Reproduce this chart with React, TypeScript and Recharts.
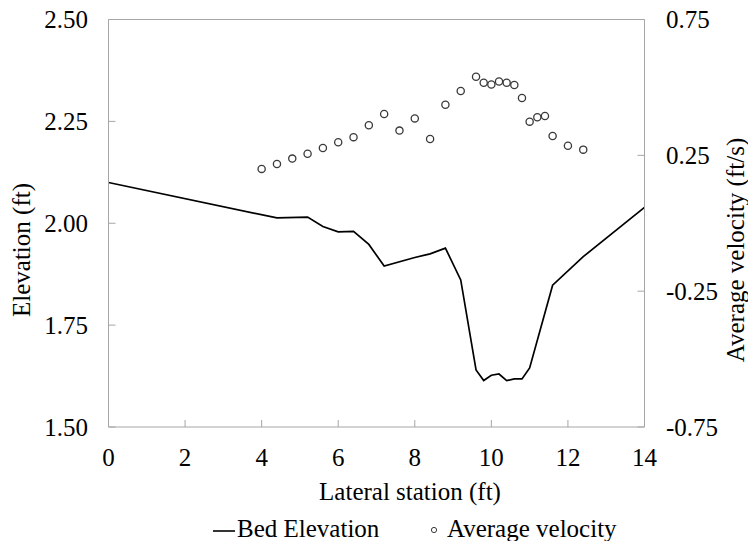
import React from 'react';
import { ComposedChart, Line, Scatter, XAxis, YAxis, Legend, ReferenceLine } from 'recharts';

// Bed profile: lateral station (ft) vs. bed elevation (ft)
const bedStations = [0, 4.4, 5.2, 5.6, 6.0, 6.4, 6.8, 7.2, 8.0, 8.4, 8.8, 9.2, 9.6, 9.8, 10.0, 10.2, 10.4, 10.6, 10.8, 11.0, 11.6, 12.4, 14];
const bedElevation = [2.100, 2.013, 2.015, 1.992, 1.979, 1.980, 1.948, 1.895, 1.916, 1.925, 1.939, 1.861, 1.640, 1.614, 1.627, 1.630, 1.614, 1.618, 1.618, 1.645, 1.848, 1.918, 2.039];

// Depth-averaged velocity (ft/s) at each measured station
const velocityStations = [4.0, 4.4, 4.8, 5.2, 5.6, 6.0, 6.4, 6.8, 7.2, 7.6, 8.0, 8.4, 8.8, 9.2, 9.6, 9.8, 10.0, 10.2, 10.4, 10.6, 10.8, 11.0, 11.2, 11.4, 11.6, 12.0, 12.4];
const averageVelocity = [0.200, 0.218, 0.238, 0.256, 0.277, 0.298, 0.317, 0.361, 0.402, 0.341, 0.386, 0.310, 0.436, 0.487, 0.539, 0.517, 0.511, 0.522, 0.517, 0.509, 0.461, 0.374, 0.390, 0.395, 0.321, 0.285, 0.271];

const xTicks = [0, 2, 4, 6, 8, 10, 12, 14];
const elevationTicks = [1.5, 1.75, 2.0, 2.25, 2.5];
const velocityTicks = [-0.75, -0.25, 0.25, 0.75];

const bedData = bedStations.map((x, i) => ({ x, elev: bedElevation[i] }));
const velocityData = velocityStations.map((x, i) => ({ x, v: averageVelocity[i] }));

const FONT = "'Times New Roman', Times, 'Liberation Serif', 'Nimbus Roman', 'Nimbus Roman No9 L', 'Noto Serif', 'DejaVu Serif', FreeSerif, serif";
const FS = 25;
const AXIS_GRAY = '#a6a6a6';

const textStyle = { fontFamily: FONT, fontSize: FS };
const tickStyle = { fontSize: FS, fill: '#000', fontFamily: FONT, style: textStyle };

const VelocityDot = (props: any) => {
  const { cx, cy } = props;
  return <circle cx={cx} cy={cy} r={3.6} fill="#fff" stroke="#3a3a3a" strokeWidth={1.3} />;
};

const LegendContent = (props: any) => {
  const items = props.payload || [];
  const bed = items.find((p: any) => p.value === 'Bed Elevation');
  const vel = items.find((p: any) => p.value === 'Average velocity');
  return (
    <svg width={748} height={29} style={{ display: 'block' }}>
      {bed && (
        <g>
          <line x1={213} x2={235} y1={19} y2={19} stroke="#000" strokeWidth={1.6} />
          <text x={237} y={25.3} style={textStyle} fill="#000">{bed.value}</text>
        </g>
      )}
      {vel && (
        <g>
          <circle cx={434} cy={18} r={2.6} fill="#fff" stroke="#3a3a3a" strokeWidth={1} />
          <text x={447} y={25.3} style={textStyle} fill="#000">{vel.value}</text>
        </g>
      )}
    </svg>
  );
};

export default function App() {
  return (
    <div style={{ position: 'absolute', left: 0, top: 0, background: '#fff', fontFamily: FONT }}>
      <ComposedChart width={748} height={541} margin={{ top: 19.5, right: 0, bottom: 0, left: 0 }}>
        <XAxis
          type="number"
          dataKey="x"
          domain={[0, 14]}
          ticks={xTicks}
          height={114}
          stroke={AXIS_GRAY}
          tickSize={-7}
          tickMargin={28}
          tick={tickStyle}
          allowDecimals={false}
          label={{
            content: () => (
              <text x={410} y={500} textAnchor="middle" style={textStyle} fill="#000">
                Lateral station (ft)
              </text>
            ),
          }}
        />
        <YAxis
          yAxisId="left"
          orientation="left"
          type="number"
          domain={[1.5, 2.5]}
          ticks={elevationTicks}
          width={108.5}
          stroke={AXIS_GRAY}
          tickSize={-7}
          tickMargin={27.5}
          tick={tickStyle}
          tickFormatter={(v: number) => v.toFixed(2)}
          label={{
            content: () => (
              <text x={30} y={250} transform="rotate(-90, 30, 250)" textAnchor="middle" style={textStyle} fill="#000">
                Elevation (ft)
              </text>
            ),
          }}
        />
        <YAxis
          yAxisId="right"
          orientation="right"
          type="number"
          domain={[-0.75, 0.75]}
          ticks={velocityTicks}
          width={103.5}
          stroke={AXIS_GRAY}
          tickSize={-7}
          tickMargin={28.5}
          tick={tickStyle}
          tickFormatter={(v: number) => v.toFixed(2)}
          label={{
            content: () => (
              <text x={744} y={250} transform="rotate(-90, 744, 250)" textAnchor="middle" style={textStyle} fill="#000">
                Average velocity (ft/s)
              </text>
            ),
          }}
        />
        <ReferenceLine yAxisId="left" y={2.5} stroke={AXIS_GRAY} strokeWidth={1} />
        <Line
          yAxisId="left"
          data={bedData}
          dataKey="elev"
          name="Bed Elevation"
          type="linear"
          stroke="#000"
          strokeWidth={1.7}
          dot={false}
          activeDot={false}
          isAnimationActive={false}
        />
        <Scatter
          yAxisId="right"
          data={velocityData}
          dataKey="v"
          name="Average velocity"
          shape={VelocityDot}
          isAnimationActive={false}
        />
        <Legend
          layout="horizontal"
          verticalAlign="middle"
          align="center"
          wrapperStyle={{ top: 512, left: 0, width: 748, height: 29 }}
          content={LegendContent}
        />
      </ComposedChart>
    </div>
  );
}
